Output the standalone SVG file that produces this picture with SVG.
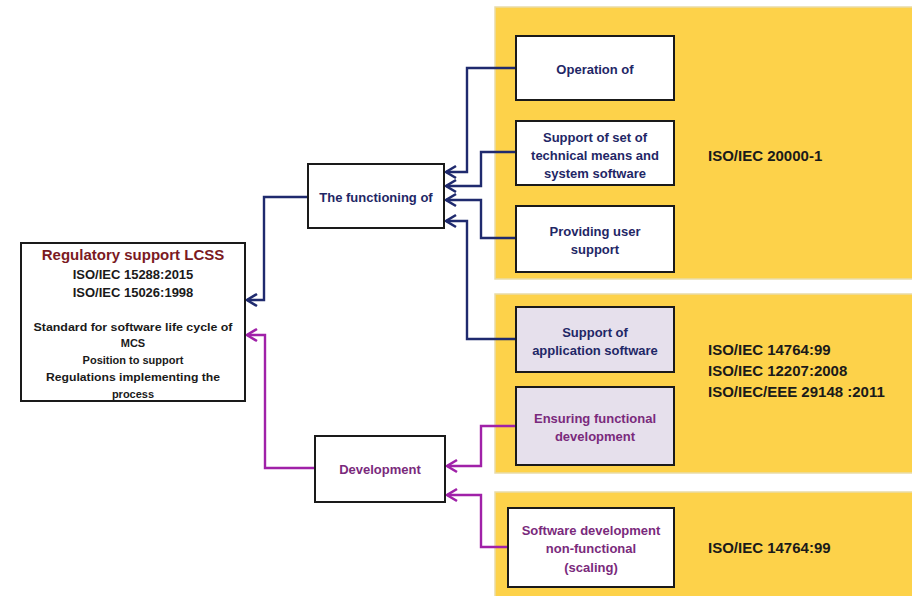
<svg xmlns="http://www.w3.org/2000/svg" width="912" height="596" viewBox="0 0 912 596">
<style>
.panel{fill:#fdd24a;stroke:#e9dca8;stroke-width:1.5}
.box{fill:#ffffff;stroke:#1a1a1a;stroke-width:2}
.lav{fill:#e6e0ec;stroke:#1a1a1a;stroke-width:2}
text{font-family:"Liberation Sans",Arial,sans-serif;font-weight:bold;dominant-baseline:central}
.c{text-anchor:middle}
.navy{fill:#1f2766}
.purp{fill:#7a2a7c}
.t{font-size:13px}
.iso{font-size:15px;fill:#1a1a1a}
.b{stroke:#1f2a6e;stroke-width:2.4;fill:none}
.p{stroke:#a021a8;stroke-width:2.4;fill:none}
</style>
<defs>
<marker id="ab" viewBox="0 0 12 14" refX="11" refY="7" markerWidth="12" markerHeight="14" markerUnits="userSpaceOnUse" orient="auto" overflow="visible">
<path d="M1,1 L11,7 L1,13" fill="none" stroke="#1f2a6e" stroke-width="2.6"/>
</marker>
<marker id="ap" viewBox="0 0 12 14" refX="11" refY="7" markerWidth="12" markerHeight="14" markerUnits="userSpaceOnUse" orient="auto" overflow="visible">
<path d="M1,1 L11,7 L1,13" fill="none" stroke="#a021a8" stroke-width="2.6"/>
</marker>
</defs>
<rect width="912" height="596" fill="#ffffff"/>
<g id="panel1">
<rect class="panel" x="495" y="7" width="420" height="272"/>
<text class="iso" x="708" y="155">ISO/IEC 20000-1</text>
</g>
<g id="panel2">
<rect class="panel" x="495" y="294" width="420" height="179"/>
<text class="iso" x="708" y="349">ISO/IEC 14764:99</text>
<text class="iso" x="708" y="370">ISO/IEC 12207:2008</text>
<text class="iso" x="708" y="391">ISO/IEC/EEE 29148 :2011</text>
</g>
<g id="panel3">
<rect class="panel" x="495" y="492" width="420" height="110"/>
<text class="iso" x="708" y="547">ISO/IEC 14764:99</text>
</g>
<g id="connectors">
<path class="b" d="M516,68 H467 V172 H446" marker-end="url(#ab)"/>
<path class="b" d="M516,152 H481 V186 H446" marker-end="url(#ab)"/>
<path class="b" d="M516,238 H481 V200 H446" marker-end="url(#ab)"/>
<path class="b" d="M516,339 H467 V221 H446" marker-end="url(#ab)"/>
<path class="b" d="M308,197 H264 V300 H247" marker-end="url(#ab)"/>
<path class="p" d="M315,468 H265 V335 H247" marker-end="url(#ap)"/>
<path class="p" d="M516,426 H481 V466 H447" marker-end="url(#ap)"/>
<path class="p" d="M508,547 H481 V495 H447" marker-end="url(#ap)"/>
</g>
<g id="regulatory">
<rect class="box" x="21" y="243" width="224" height="158"/>
<text class="c" x="133" y="254" font-size="15" fill="#7b1a1f">Regulatory support LCSS</text>
<text class="c" x="133" y="274" font-size="13" fill="#1a1a1a">ISO/IEC 15288:2015</text>
<text class="c" x="133" y="292" font-size="13" fill="#1a1a1a">ISO/IEC 15026:1998</text>
<text class="c" x="133" y="327" font-size="11" fill="#1a1a1a" textLength="199" lengthAdjust="spacingAndGlyphs">Standard for software life cycle  of</text>
<text class="c" x="133" y="343" font-size="11" fill="#1a1a1a">MCS</text>
<text class="c" x="133" y="360" font-size="11" fill="#1a1a1a">Position to support</text>
<text class="c" x="133" y="377" font-size="11" fill="#1a1a1a" textLength="174" lengthAdjust="spacingAndGlyphs">Regulations implementing the</text>
<text class="c" x="133" y="394" font-size="11" fill="#1a1a1a">process</text>
</g>
<g id="functioning">
<rect class="box" x="308" y="164" width="136" height="64"/>
<text class="c navy t" x="376" y="197">The functioning of</text>
</g>
<g id="development">
<rect class="box" x="315" y="436" width="130" height="66"/>
<text class="c purp t" x="380" y="469">Development</text>
</g>
<g id="operation">
<rect class="box" x="516" y="36" width="158" height="64"/>
<text class="c navy t" x="595" y="69">Operation of</text>
</g>
<g id="support-tech">
<rect class="box" x="516" y="121" width="158" height="64"/>
<text class="c navy t" x="595" y="137">Support of set of</text>
<text class="c navy t" x="595" y="155">technical means and</text>
<text class="c navy t" x="595" y="173">system software</text>
</g>
<g id="user-support">
<rect class="box" x="516" y="206" width="158" height="66"/>
<text class="c navy t" x="595" y="231">Providing user</text>
<text class="c navy t" x="595" y="249">support</text>
</g>
<g id="app-software">
<rect class="lav" x="516" y="307" width="158" height="65"/>
<text class="c navy t" x="595" y="332">Support of</text>
<text class="c navy t" x="595" y="350">application software</text>
</g>
<g id="functional-dev">
<rect class="lav" x="516" y="387" width="158" height="78"/>
<text class="c purp t" x="595" y="418">Ensuring functional</text>
<text class="c purp t" x="595" y="436">development</text>
</g>
<g id="nonfunctional-dev">
<rect class="box" x="508" y="508" width="166" height="79"/>
<text class="c purp t" x="591" y="530">Software development</text>
<text class="c purp t" x="591" y="548">non-functional</text>
<text class="c purp t" x="591" y="567">(scaling)</text>
</g>
</svg>
